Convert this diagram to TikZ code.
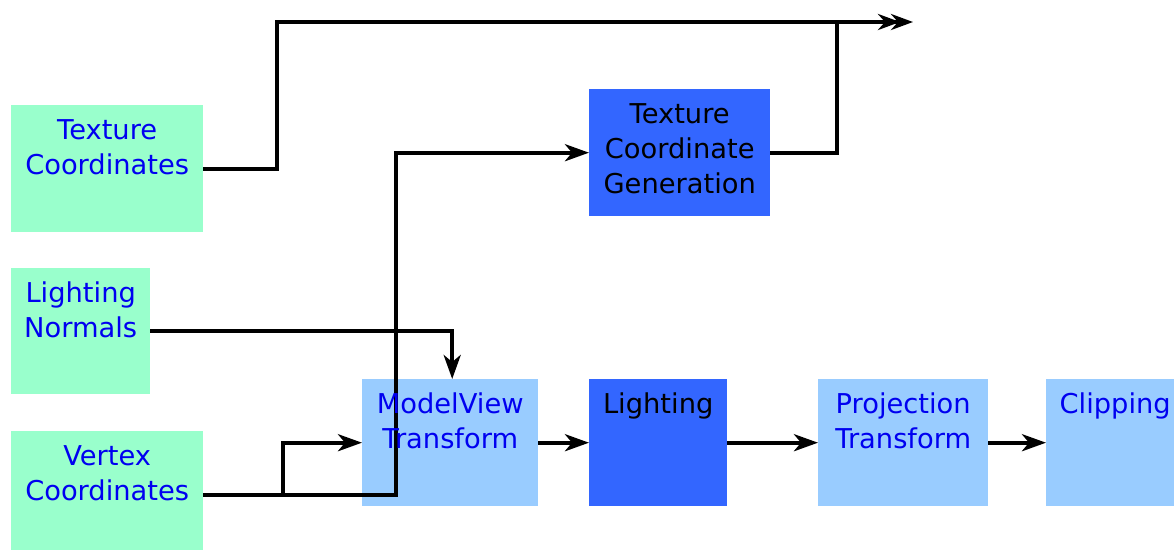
\documentclass[tikz,border=0pt]{standalone}
\usepackage{fontspec}
\setmainfont{DejaVu Sans}
\usetikzlibrary{arrows.meta}
\definecolor{inputgreen}{HTML}{99FFCC}
\definecolor{stagelight}{HTML}{99CCFF}
\definecolor{stagedark}{HTML}{3366FF}
\definecolor{labelblue}{HTML}{0000F0}
\tikzset{
  box/.style={draw=none, inner sep=0pt, anchor=north west},
  inbox/.style={box, fill=inputgreen},
  lightbox/.style={box, fill=stagelight},
  darkbox/.style={box, fill=stagedark},
  txt/.style={inner sep=0pt, anchor=north, align=center,
    font=\fontsize{27.3}{35}\selectfont},
  wire/.style={line width=4pt, line join=miter},
  head/.style={-{Stealth[length=24pt,width=17pt,inset=7pt]}},
  dhead/.style={-{Stealth[length=22pt,width=16pt,inset=7pt,sep=-9pt]Stealth[length=22pt,width=16pt,inset=7pt]}}
}
\begin{document}
\begin{tikzpicture}[x=1pt,y=-1pt]
\useasboundingbox (0,0) rectangle (1174,549);

% input boxes
\node[inbox, minimum width=192pt, minimum height=127pt] (tc) at (11,105) {};
\node[inbox, minimum width=139pt, minimum height=126pt] (ln) at (11,268) {};
\node[inbox, minimum width=192pt, minimum height=127pt] (vc) at (11,431) {};

% pipeline stages
\node[darkbox, minimum width=181pt, minimum height=127pt] (tg) at (589,89) {};
\node[lightbox, minimum width=176pt, minimum height=127pt] (mv) at (362,379) {};
\node[darkbox, minimum width=138pt, minimum height=127pt] (li) at (589,379) {};
\node[lightbox, minimum width=170pt, minimum height=127pt] (pt) at (818,379) {};
\node[lightbox, minimum width=138pt, minimum height=127pt] (cl) at (1046,379) {};

% junction points
\coordinate (j1) at (277,22);
\coordinate (j2) at (837,22);
\coordinate (out) at (913,22);
\coordinate (riser) at (396,0);
\coordinate (split) at (283,494);

% connectors
\draw[wire] (tc.east) -| (j1) -- (j2);
\draw[wire, dhead] (j2) -- (out);
\draw[wire] (tg.east) -| (j2);
\draw[wire, head] (ln.east) -| ([xshift=2pt]mv.north);
\draw[wire, head] (vc.east) -| (riser |- tg.west) -- (tg.west);
\draw[wire, head] (split) |- (mv.west);
\draw[wire, head] (mv.east) -- (li.west);
\draw[wire, head] (li.east) -- (pt.west);
\draw[wire, head] (pt.east) -- (cl.west);

% labels
\node[txt, text=labelblue] (tct) at ([yshift=-14pt]tc.north) {Texture\\Coordinates};
\node[txt, text=labelblue] (lnt) at ([yshift=-14pt]ln.north) {Lighting\\Normals};
\node[txt, text=labelblue] (vct) at ([yshift=-14pt]vc.north) {Vertex\\Coordinates};
\node[txt, text=black] (tgt) at ([yshift=-14pt]tg.north) {Texture\\Coordinate\\Generation};
\node[txt, text=labelblue] (mvt) at ([yshift=-14pt]mv.north) {ModelView\\Transform};
\node[txt, text=black] (lit) at ([yshift=-14pt]li.north) {Lighting};
\node[txt, text=labelblue] (ptt) at ([yshift=-14pt]pt.north) {Projection\\Transform};
\node[txt, text=labelblue] (clt) at ([yshift=-14pt]cl.north) {Clipping};
\end{tikzpicture}
\end{document}
